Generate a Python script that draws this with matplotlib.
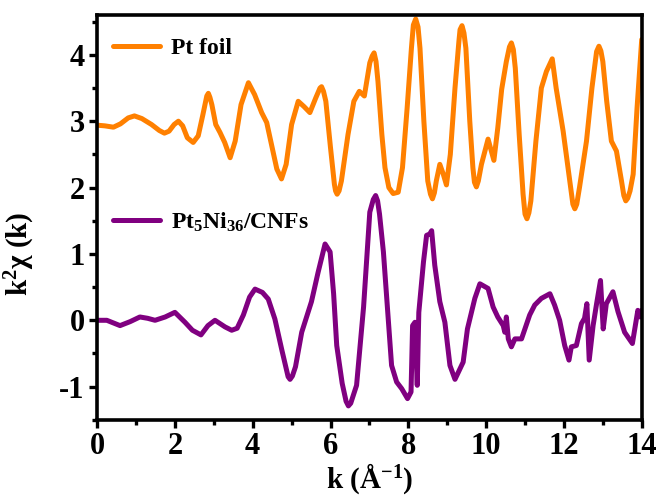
# EXAFS k^2-weighted chi(k) comparison plot
import matplotlib
matplotlib.use('Agg')
import matplotlib.pyplot as plt

# Pt foil
k_foil = [0.00, 0.20, 0.42, 0.60, 0.80, 0.96, 1.15, 1.40, 1.60, 1.73, 1.85, 1.98,
          2.09, 2.20, 2.32, 2.47, 2.60, 2.72, 2.82, 2.86, 2.90, 2.95, 3.05, 3.16,
          3.28, 3.42, 3.55, 3.70, 3.89, 4.05, 4.23, 4.36, 4.50, 4.62, 4.74, 4.86,
          5.00, 5.17, 5.32, 5.47, 5.62, 5.73, 5.77, 5.82, 5.88, 6.00, 6.10, 6.13,
          6.17, 6.22, 6.28, 6.45, 6.60, 6.74, 6.87, 7.01, 7.07, 7.12, 7.17, 7.22,
          7.32, 7.40, 7.50, 7.61, 7.74, 7.85, 7.97, 8.08, 8.13, 8.19, 8.25, 8.30,
          8.40, 8.50, 8.57, 8.62, 8.67, 8.72, 8.81, 8.90, 8.98, 9.08, 9.20, 9.30,
          9.33, 9.38, 9.43, 9.48, 9.58, 9.66, 9.70, 9.75, 9.80, 9.88, 10.05, 10.20,
          10.30, 10.40, 10.52, 10.60, 10.65, 10.70, 10.75, 10.85, 10.95, 11.00,
          11.05, 11.10, 11.15, 11.28, 11.42, 11.55, 11.70, 11.80, 11.98, 12.15,
          12.23, 12.28, 12.33, 12.40, 12.58, 12.72, 12.84, 12.90, 12.95, 13.00,
          13.10, 13.22, 13.35, 13.48, 13.54, 13.59, 13.64, 13.70, 13.78, 13.88, 14.00]
chi_foil = [2.94, 2.93, 2.91, 2.96, 3.05, 3.08, 3.04, 2.95, 2.86, 2.82, 2.85, 2.95,
            3.00, 2.93, 2.75, 2.68, 2.78, 3.10, 3.38, 3.42, 3.36, 3.25, 2.95, 2.83,
            2.68, 2.45, 2.70, 3.25, 3.58, 3.40, 3.13, 2.98, 2.60, 2.28, 2.13, 2.35,
            2.95, 3.30, 3.22, 3.13, 3.35, 3.50, 3.52, 3.45, 3.30, 2.60, 2.05, 1.95,
            1.90, 1.95, 2.10, 2.80, 3.30, 3.45, 3.38, 3.88, 3.98, 4.03, 3.90, 3.60,
            2.80, 2.30, 2.00, 1.91, 1.93, 2.30, 3.20, 4.10, 4.45, 4.54, 4.42, 4.10,
            3.00, 2.10, 1.90, 1.83, 1.92, 2.10, 2.35, 2.20, 2.04, 2.50, 3.50, 4.20,
            4.38, 4.44, 4.33, 4.10, 3.00, 2.30, 2.08, 2.01, 2.10, 2.35, 2.73, 2.41,
            2.90, 3.48, 3.90, 4.12, 4.18, 4.08, 3.80, 2.80, 1.90, 1.60,
            1.53, 1.62, 1.80, 2.70, 3.50, 3.75, 3.94, 3.50, 2.85, 2.10,
            1.75, 1.68, 1.75, 2.00, 2.70, 3.50, 4.05, 4.13, 4.06, 3.90,
            3.30, 2.70, 2.55, 2.10, 1.88, 1.80, 1.84, 1.95, 2.20, 3.20, 4.23]

# Pt5Ni36/CNFs
k_cat = [0.00, 0.25, 0.59, 0.85, 1.10, 1.30, 1.49, 1.75, 2.00, 2.26, 2.45, 2.67,
         2.85, 3.03, 3.29, 3.46, 3.60, 3.76, 3.92, 4.06, 4.25, 4.40, 4.57, 4.75,
         4.91, 4.96, 5.02, 5.10, 5.26, 5.51, 5.68, 5.86, 5.99, 6.08, 6.16, 6.30,
         6.40, 6.46, 6.52, 6.67, 6.85, 7.01, 7.10, 7.16, 7.21, 7.26, 7.36, 7.57,
         7.70, 7.83, 7.98, 8.07, 8.11, 8.17, 8.23, 8.27, 8.39, 8.47, 8.55, 8.60,
         8.68, 8.81, 8.94, 9.07, 9.20, 9.41, 9.52, 9.71, 9.84, 10.05, 10.18, 10.30,
         10.44, 10.48, 10.52, 10.57, 10.65, 10.74, 10.91, 11.12, 11.25, 11.42,
         11.64, 11.76, 11.89, 12.02, 12.13, 12.19, 12.32, 12.45, 12.53, 12.59,
         12.65, 12.75, 12.84, 12.94, 13.01, 13.09, 13.26, 13.39, 13.56, 13.76,
         13.90, 13.96, 14.00]
chi_cat = [0.00, 0.00, -0.08, -0.02, 0.05, 0.03, 0.00, 0.05, 0.12, -0.03, -0.15, -0.22,
           -0.08, 0.00, -0.10, -0.15, -0.12, 0.08, 0.35, 0.47, 0.42, 0.32, 0.02, -0.45,
           -0.85, -0.89, -0.84, -0.70, -0.18, 0.28, 0.72, 1.15, 1.03, 0.40, -0.38, -0.95,
           -1.22, -1.29, -1.25, -0.98, 0.20, 1.63, 1.82, 1.88, 1.80, 1.60, 1.03, -0.68,
           -0.93, -1.03, -1.18, -1.08, -0.08, -0.03, -0.98, 0.12, 0.88, 1.28, 1.30, 1.35,
           0.83, 0.28, -0.03, -0.68, -0.89, -0.63, -0.13, 0.33, 0.55, 0.48, 0.20, 0.05,
           -0.08, -0.18, 0.05, -0.28, -0.40, -0.28, -0.28, 0.08, 0.23, 0.33,
           0.40, 0.23, 0.00, -0.38, -0.60, -0.40, -0.38, -0.05, 0.03, 0.25,
           -0.60, -0.08, 0.25, 0.60, -0.13, 0.25, 0.43, 0.13, -0.18, -0.35,
           0.15, 0.05, 0.15]

orange = '#FF8000'
purple = '#800080'

plt.rcParams['font.family'] = ['Liberation Serif', 'DejaVu Serif']
plt.rcParams['font.weight'] = 'bold'
plt.rcParams['mathtext.fontset'] = 'custom'
plt.rcParams['mathtext.rm'] = 'Liberation Serif:bold'
plt.rcParams['mathtext.it'] = 'Liberation Serif:bold'
plt.rcParams['mathtext.bf'] = 'Liberation Serif:bold'
plt.rcParams['mathtext.default'] = 'regular'

fig = plt.figure(figsize=(6.65, 5.01), dpi=100)
ax = fig.add_axes([0.146, 0.162, 0.819, 0.808])

l1, = ax.plot(k_foil, chi_foil, color=orange, lw=3.6,
              solid_joinstyle='round', solid_capstyle='round')
l2, = ax.plot(k_cat, chi_cat, color=purple, lw=3.6,
              solid_joinstyle='round', solid_capstyle='round')

ax.set_xlim(0, 14)
ax.set_ylim(-1.5, 4.6)
ax.set_xticks(range(0, 15, 2))
ax.set_xticks(range(1, 14, 2), minor=True)
ax.set_yticks([-1, 0, 1, 2, 3, 4])
ax.set_yticks([-1.5, -0.5, 0.5, 1.5, 2.5, 3.5, 4.5], minor=True)

for s in ax.spines.values():
    s.set_linewidth(2.6)
ax.tick_params(which='major', direction='out', length=6, width=2.4,
               labelsize=22, pad=3)
ax.tick_params(which='minor', direction='out', length=3.5, width=2.4)
ax.set_yticklabels(['-1', '0', '1', '2', '3', '4'])

ax.set_xlabel(r'k (Å$^{-1}$)', fontsize=21, fontweight='bold', labelpad=0)
ax.set_ylabel('k$^2$χ (k)', fontsize=21, fontweight='bold')
ax.yaxis.set_label_coords(-0.11, 0.41)

leg_kw = dict(frameon=False, fontsize=17, handlelength=2.0, handletextpad=0.45,
              borderpad=0, borderaxespad=0, loc='center left')
leg1 = ax.legend([l1], ['Pt foil'], bbox_to_anchor=(0.029, 0.918), **leg_kw)
ax.add_artist(leg1)
ax.legend([l2], [r'Pt$_5$Ni$_{36}$/CNFs'], bbox_to_anchor=(0.029, 0.489), **leg_kw)

fig.savefig('out.png', dpi=100)
